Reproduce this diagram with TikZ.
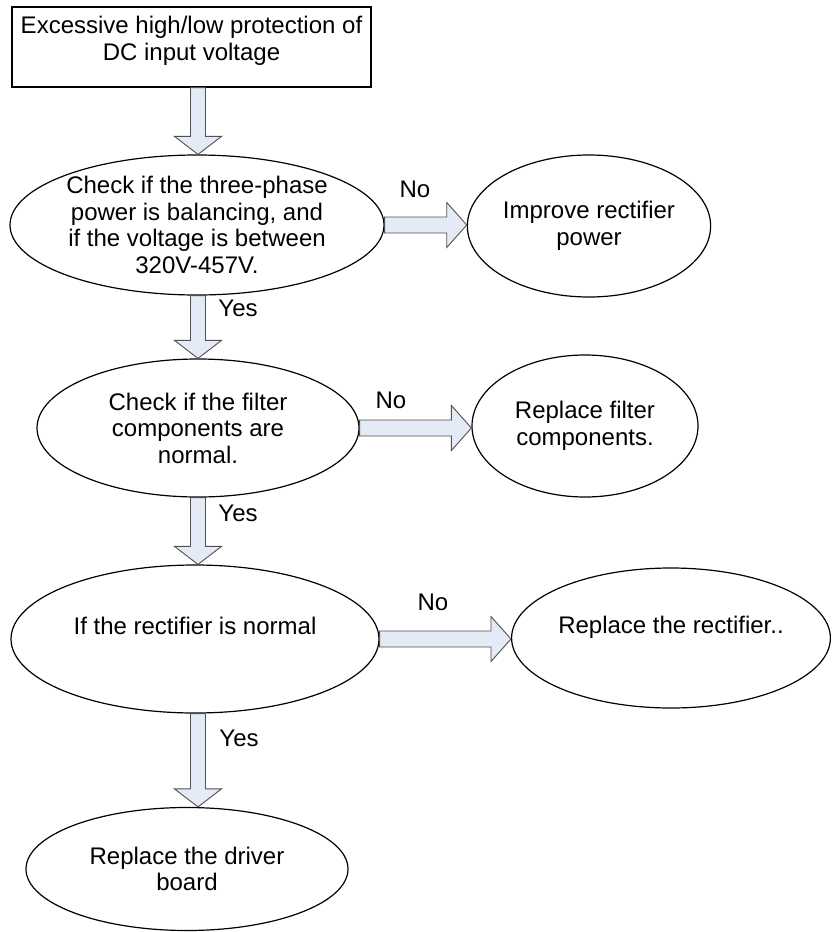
\documentclass[tikz,border=0pt]{standalone}
\usepackage{fontspec}
\setmainfont{Liberation Sans}
\usetikzlibrary{shapes.geometric,calc}
\definecolor{arrfill}{RGB}{228,234,246}
\definecolor{arrline}{RGB}{80,80,80}
\tikzset{
  txt/.style={font=\fontsize{24}{26.5}\selectfont, align=center},
  oval/.style={txt, ellipse, draw=black, line width=1.2pt, inner sep=0pt},
  boxnode/.style={txt, rectangle, draw=black, line width=1.4pt, inner sep=0pt},
  blk/.style={fill=arrfill, draw=arrline, line width=0.9pt, line join=miter},
  lbl/.style={txt, inner sep=0pt}
}
\newcommand\vblock[3]{% from #1 to #2 at the x of coordinate #3
  \draw[blk] let \p1=(#1.south), \p2=(#2.north), \p3=(#3) in
    (\x3-7.5pt,\y1) -- (\x3-7.5pt,\y2+18pt) -- (\x3-23.5pt,\y2+18pt) -- (\x3,\y2)
    -- (\x3+23.5pt,\y2+18pt) -- (\x3+7.5pt,\y2+18pt) -- (\x3+7.5pt,\y1) -- cycle;}
\newcommand\hblock[2]{% from #1 to #2
  \draw[blk] let \p1=(#1.east), \p2=(#2.west) in
    (\x1,\y1+8pt) -- (\x2-20pt,\y1+8pt) -- (\x2-20pt,\y1+22.5pt) -- (\x2,\y1)
    -- (\x2-20pt,\y1-22.5pt) -- (\x2-20pt,\y1-8pt) -- (\x1,\y1-8pt) -- cycle;}
\begin{document}
\begin{tikzpicture}[x=1pt,y=-1pt]
\useasboundingbox[fill=white] (0,0) rectangle (831,932);
\coordinate (ax) at (198,0);

\node[boxnode, minimum width=359pt, minimum height=80pt] (box) at (191.5,47)
  {Excessive high/low protection of\\DC input voltage\\[-9pt]\mbox{}};

\node[oval, minimum width=374pt, minimum height=140pt] (A) at (197,225)
  {Check if the three-phase\\power is balancing, and\\if the voltage is between\\320V-457V.};
\node[oval, minimum width=200pt, minimum height=142pt] (B) at (589,226)
  {Improve rectifier\\power};
\node[oval, minimum width=322pt, minimum height=138pt] (C) at (198,428)
  {Check if the filter\\components are\\normal.};
\node[oval, minimum width=226pt, minimum height=142pt] (D) at (585,426)
  {Replace filter\\components.};
\node[oval, minimum width=368pt, minimum height=148pt] (E) at (195,639)
  {If the rectifier is normal\\\mbox{}};
\node[oval, minimum width=317pt, minimum height=140pt] (F) at (671,638)
  {Replace the rectifier..\\\mbox{}};
\node[oval, minimum width=322pt, minimum height=123pt] (G) at (187,869)
  {Replace the driver\\board};

\vblock{box}{A}{ax}
\vblock{A}{C}{ax}
\vblock{C}{E}{ax}
\vblock{E}{G}{ax}
\hblock{A}{B}
\hblock{C}{D}
\hblock{E}{F}

\node[lbl] (no1) at (415,189) {No};
\node[lbl] (no2) at (391,400) {No};
\node[lbl] (no3) at (433,602) {No};
\node[lbl] (yes1) at (238,308) {Yes};
\node[lbl] (yes2) at (238,513) {Yes};
\node[lbl] (yes3) at (239,738) {Yes};
\end{tikzpicture}
\end{document}
